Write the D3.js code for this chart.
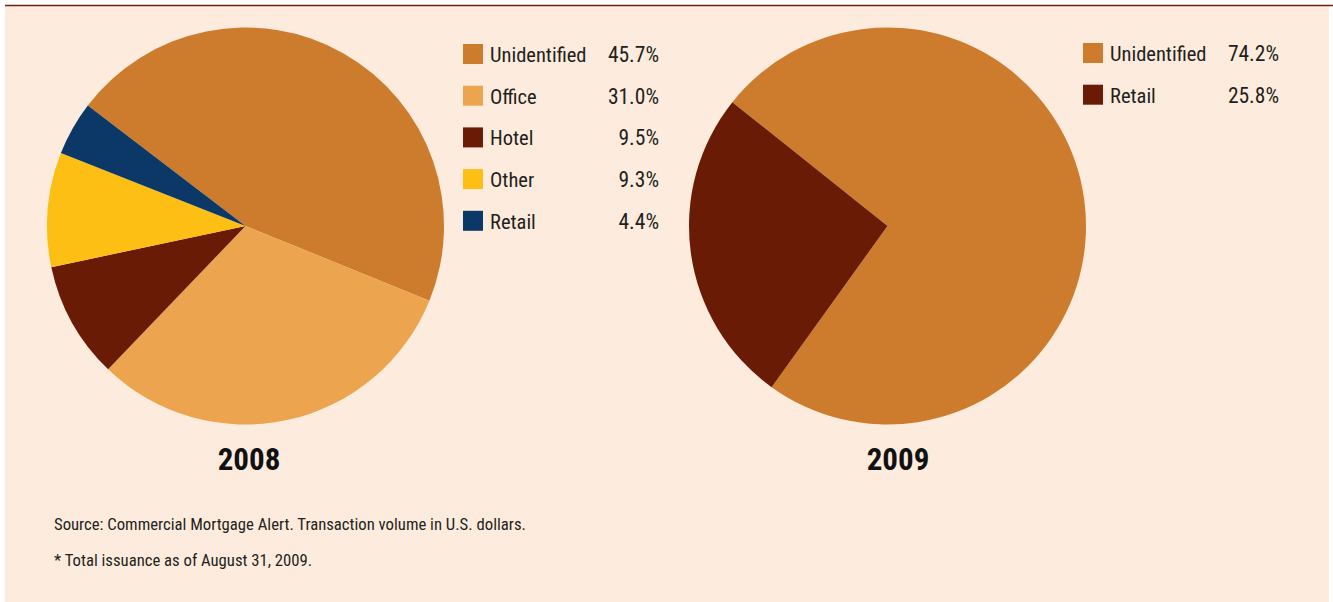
<!DOCTYPE html>
<html><head><meta charset="utf-8">
<script src="https://cdn.jsdelivr.net/npm/d3@7"></script>
<style>
body{margin:0;background:#fff;}
text{font-family:"Liberation Sans Narrow","Arial Narrow","Roboto Condensed",sans-serif;}
</style></head>
<body><svg id="c" width="1333" height="602"></svg>
<script>
const categories2008 = ["Unidentified","Office","Hotel","Other","Retail"];
const values2008 = [45.7,31.0,9.5,9.3,4.4];
const categories2009 = ["Unidentified","Retail"];
const values2009 = [74.2,25.8];
const colors2008 = ["#cd7b2c","#eca44e","#6a1b06","#fdbf13","#0c3868"];
const colors2009 = ["#cd7b2c","#6a1b06"];
const titles = ["2008","2009"];
const notes = ["Source: Commercial Mortgage Alert. Transaction volume in U.S. dollars.","* Total issuance as of August 31, 2009."];

const svg = d3.select("#c");
svg.append("rect").attr("x",5).attr("y",5).attr("width",1324).attr("height",597).attr("fill","#fdecdd");
svg.append("line").attr("x1",5).attr("x2",1333).attr("y1",5.5).attr("y2",5.5).attr("stroke","#6b2412").attr("stroke-width",1.6);

function drawPie(cx, cy, r, cats, vals, cols, startDeg, title, titleX, legX, legY, pctRight){
  const pie = d3.pie().sort(null).startAngle(startDeg*Math.PI/180).endAngle(startDeg*Math.PI/180+2*Math.PI);
  const arc = d3.arc().innerRadius(0).outerRadius(r);
  const g = svg.append("g").attr("transform",`translate(${cx},${cy})`);
  g.selectAll("path").data(pie(vals)).join("path").attr("d",arc).attr("fill",(d,i)=>cols[i]);
  svg.append("text").attr("x",titleX).attr("y",470).attr("text-anchor","middle")
    .attr("font-size",31).attr("font-weight","bold").attr("fill","#111").text(title);
  const lg = svg.append("g");
  cats.forEach((c,i)=>{
    const y = legY + i*41.7;
    lg.append("rect").attr("x",legX).attr("y",y-10).attr("width",20).attr("height",20).attr("fill",cols[i]);
    lg.append("text").attr("x",legX+27).attr("y",y+8).attr("font-size",20.5).attr("fill","#231f20").text(c);
    lg.append("text").attr("x",pctRight).attr("y",y+8).attr("text-anchor","end").attr("font-size",21.5).attr("fill","#231f20").text(d3.format(".1f")(vals[i])+"%");
  });
}
drawPie(245.5,226,198.5,categories2008,values2008,colors2008,-52.6,titles[0],249,463,54,659);
drawPie(887.5,226,198.5,categories2009,values2009,colors2009,-51.4,titles[1],898,1083,53,1279);

notes.forEach((n,i)=>{
  svg.append("text").attr("x",54).attr("y",530+i*36).attr("font-size",16.7).attr("fill","#231f20").text(n);
});
</script></body></html>
